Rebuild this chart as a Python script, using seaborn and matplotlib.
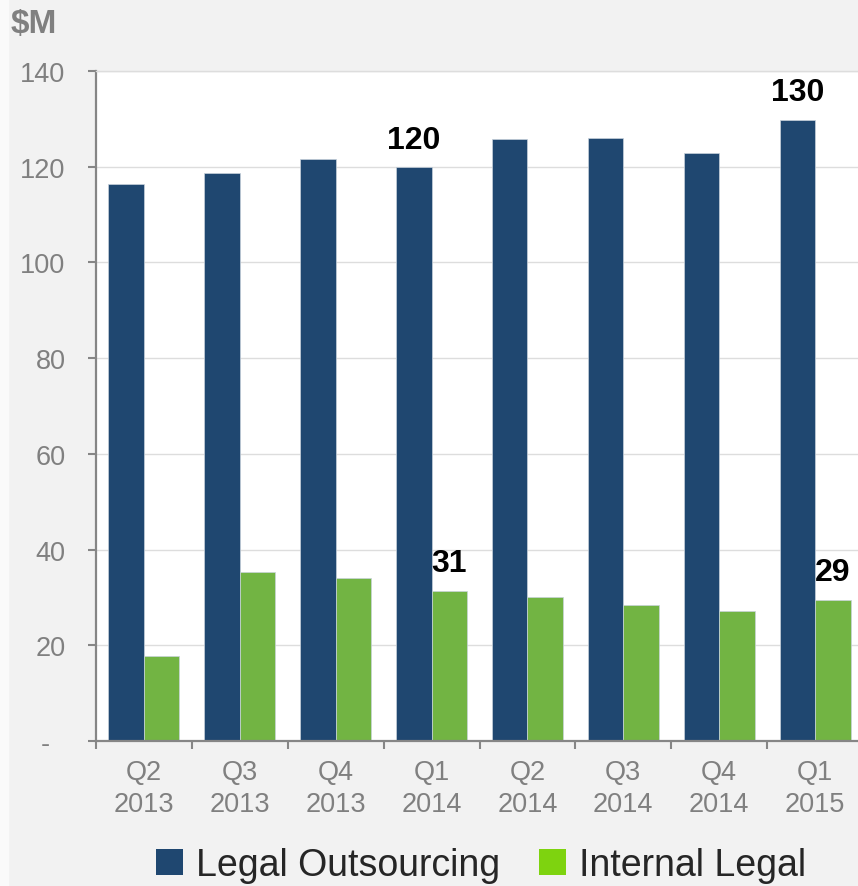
import numpy as np
import pandas as pd
import seaborn as sns
import matplotlib
matplotlib.use("Agg")
import matplotlib.pyplot as plt
from matplotlib.patches import Patch, Rectangle

# data ($M)
quarters = ["Q2\n2013", "Q3\n2013", "Q4\n2013", "Q1\n2014",
            "Q2\n2014", "Q3\n2014", "Q4\n2014", "Q1\n2015"]
legal_outsourcing = [116.4, 118.7, 121.6, 119.9, 125.8, 126.0, 122.9, 129.8]
internal_legal = [17.8, 35.3, 34.1, 31.4, 30.0, 28.4, 27.2, 29.5]
series_names = ["Legal Outsourcing", "Internal Legal"]
yticks = [0, 20, 40, 60, 80, 100, 120, 140]
ytick_labels = ["-  ", "20", "40", "60", "80", "100", "120", "140"]
# labelled bars: (quarter index, series, text)
callouts = [(3, 0, "120"), (7, 0, "130"), (3, 1, "31"), (7, 1, "29")]

blue = "#1F4770"
green = "#72B443"
legend_green = "#7ED30F"
grey = "#808080"

df = pd.DataFrame({
    "quarter": quarters * 2,
    "value": legal_outsourcing + internal_legal,
    "series": [series_names[0]] * len(quarters) + [series_names[1]] * len(quarters),
})

sns.set_theme(style="white")
plt.rcParams['font.family'] = ['Liberation Sans', 'DejaVu Sans']

fig = plt.figure(figsize=(8.58, 8.87), dpi=100, facecolor="#F2F2F2")
# thin lighter strip on the left edge
fig.patches.append(Rectangle((0, 0), 8 / 858, 1, transform=fig.transFigure,
                             color="#FAFAFA", zorder=-1))
ax = fig.add_axes([96 / 858, 145 / 887, 767 / 858, 670 / 887])
ax.set_facecolor("white")

sns.barplot(data=df, x="quarter", y="value", hue="series",
            palette=[blue, green], width=0.74, ax=ax, legend=False,
            edgecolor="#C8D2DC", linewidth=0.5, saturation=1)

ax.set_ylim(0, 140)
ax.set_xlim(-0.5, len(quarters) - 0.5)
ax.set_yticks(yticks)
ax.set_yticklabels(ytick_labels)
ax.yaxis.grid(True, color="#DDDDDD", lw=1)
ax.set_axisbelow(True)
ax.set_xlabel("")
ax.set_ylabel("")

for s in ["left", "bottom"]:
    ax.spines[s].set_color("#868686")
    ax.spines[s].set_linewidth(1.6)
ax.spines["top"].set_color("#DDDDDD")
ax.spines["top"].set_linewidth(1)
ax.spines["right"].set_visible(False)

ax.tick_params(axis="y", length=6, width=1.5, color="#868686", pad=16,
               labelsize=19.5, labelcolor=grey, left=True)
ax.tick_params(axis="x", which="major", length=0, pad=13,
               labelsize=19.5, labelcolor=grey)
for lbl in ax.get_xticklabels():
    lbl.set_linespacing(1.3)
ax.set_xticks(np.arange(-0.5, len(quarters), 1.0), minor=True)
ax.tick_params(axis="x", which="minor", length=6, width=1.5,
               color="#868686", bottom=True)

# value callouts above selected bars
vals = [legal_outsourcing, internal_legal]
for i, s, txt in callouts:
    x = i + (-0.185 if s == 0 else 0.185)
    ax.annotate(txt, (x, vals[s][i]), xytext=(0, 9), textcoords="offset points",
                ha="center", va="bottom", fontsize=23, fontweight="bold",
                color="black")

fig.text(11 / 858, 1 - 9 / 887, "$M", ha="left", va="top", fontsize=24,
         fontweight="bold", color=grey)

handles = [Patch(facecolor=blue, edgecolor="none"),
           Patch(facecolor=legend_green, edgecolor="none")]
fig.legend(handles, series_names, loc="center",
           bbox_to_anchor=(481 / 858, 21 / 887), ncol=2, frameon=False,
           fontsize=27, handlelength=0.72, handleheight=0.72,
           handletextpad=0.33, columnspacing=1.05, labelcolor="#262626")

fig.savefig("out.png", dpi=100, facecolor=fig.get_facecolor())
